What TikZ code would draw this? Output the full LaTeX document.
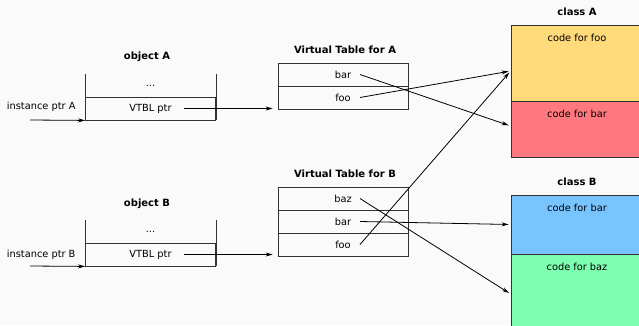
\documentclass[tikz,border=0pt]{standalone}
\usepackage{fontspec}
\setmainfont{DejaVu Sans}
\usetikzlibrary{arrows.meta,positioning}
\definecolor{bgray}{RGB}{250,250,250}
\definecolor{fooyel}{RGB}{255,218,122}
\definecolor{barred}{RGB}{255,120,128}
\definecolor{barblue}{RGB}{120,196,255}
\definecolor{bazgreen}{RGB}{124,255,176}
\definecolor{edge}{RGB}{50,50,50}
\tikzset{
  slot/.style={draw=edge,line width=0.8pt,minimum width=130pt,minimum height=23pt,inner sep=0pt},
  code/.style={draw=edge,line width=0.8pt,minimum width=132pt,inner sep=0pt},
  title/.style={font=\bfseries},
  ptr/.style={->,line width=0.8pt}
}
\begin{document}
\begin{tikzpicture}[x=1pt,y=-1pt,>={Stealth[length=7pt,width=4pt]},font=\fontsize{9.8}{11}\selectfont]
    \fill[bgray](0,0)rectangle(639,325);
    \useasboundingbox(0,0)rectangle(639,325);
    \clip(0,0)rectangle(639,325);
    % objects
    \node[title]at(147,57){object A};
    \node[slot,draw=none](oa1)at(150.5,85.5){...};
    \node[slot](oa2)at(150.5,108.5){VTBL ptr};
    \draw[edge,line width=0.8pt](oa1.north west)--(oa2.south west)(oa1.north east)--(oa2.south east);
    \node[title]at(147,204){object B};
    \node[slot,draw=none](ob1)at(150.5,232){...};
    \node[slot](ob2)at(150.5,254.5){VTBL ptr};
    \draw[edge,line width=0.8pt](ob1.north west)--(ob2.south west)(ob1.north east)--(ob2.south east);
    \node[anchor=east](ia)at(79,107){instance ptr A};
    \node[anchor=east](ib)at(79,255){instance ptr B};
    \coordinate(ca)at(30,120);
    \coordinate(cb)at(30,266);
    \draw[ptr](ca)--(oa2.south west);
    \draw[ptr](cb)--(ob2.south west);
    % virtual tables
    \node[title]at(345,50){Virtual Table for A};
    \node[slot](va1)at(343,74.5){bar};
    \node[slot](va2)at(343,97.5){foo};
    \node[title]at(345,174){Virtual Table for B};
    \node[slot](vb1)at(343,198.5){baz};
    \node[slot](vb2)at(343,221.5){bar};
    \node[slot](vb3)at(343,244.5){foo};
    \draw[ptr]([xshift=33pt]oa2.center)--([xshift=-5pt]oa2.center-|va2.west);
    \draw[ptr]([xshift=33pt]ob2.center)--([xshift=-5pt]ob2.center-|vb3.west);
    % classes
    \node[title]at(577,12){class A};
    \node[code,fill=fooyel,minimum height=76pt](fa)at(577,63){};
    \node[code,fill=barred,minimum height=56pt](ba)at(577,129){};
    \node[below=6pt of fa.north]{code for foo};
    \node[below=6pt of ba.north]{code for bar};
    \node[title]at(577,182){class B};
    \node[code,fill=barblue,minimum height=59pt](bb)at(577,224.5){};
    \node[code,fill=bazgreen,minimum height=80pt](zb)at(577,294){};
    \node[below=6pt of bb.north]{code for bar};
    \node[below=6pt of zb.north]{code for baz};
    % pointers
    \draw[ptr,shorten >=2pt]([xshift=17pt]va1.center)--([yshift=3pt]ba.west);
    \draw[ptr,shorten >=2pt]([xshift=17pt]va2.center)--([yshift=-8pt]fa.west);
    \draw[ptr,shorten >=2pt]([xshift=17pt]vb3.center)--([yshift=-8pt]fa.west);
    \draw[ptr,shorten >=2pt]([xshift=17pt]vb2.center)--(bb.west);
    \draw[ptr,shorten >=2pt]([xshift=17pt]vb1.center)--(zb.west);
\end{tikzpicture}
\end{document}
